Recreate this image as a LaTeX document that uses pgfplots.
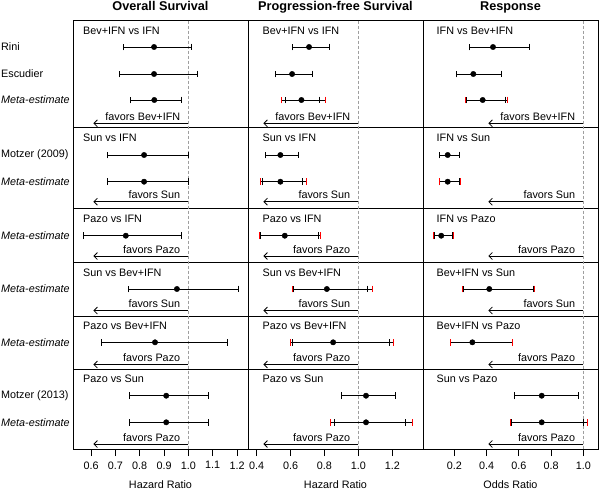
\documentclass[border=0pt]{standalone}
\usepackage{fontspec}
\setmainfont{Liberation Sans}
\usepackage{pgfplots}
\usepackage{pgfplotstable}
\pgfplotsset{compat=1.18}
\usetikzlibrary{arrows.meta}

\newcommand{\lab}{\fontsize{10.8}{13}\selectfont}
\newcommand{\ttl}{\fontsize{12.7}{15}\selectfont\bfseries}

% y column = vertical row position (top = 20.7, bottom = 449)
% columns: y, estimate, lower, upper
\pgfplotstableread{
y     est   lo    hi
47    0.859 0.733 1.013
74    0.859 0.715 1.036
100   0.860 0.760 0.973
155   0.818 0.669 1.000
181.7 0.818 0.669 1.000
235.7 0.743 0.568 0.970
289   0.953 0.754 1.204
342.3 0.863 0.644 1.161
395.7 0.909 0.758 1.083
422.3 0.909 0.758 1.083
}\osci

\pgfplotstableread{
y     est   lo    hi
47    0.709 0.611 0.827
74    0.609 0.513 0.731
100   0.664 0.572 0.768
155   0.540 0.454 0.646
181.7 0.540 0.432 0.670
235.7 0.566 0.422 0.766
289   0.814 0.617 1.055
342.3 0.851 0.611 1.181
395.7 1.045 0.898 1.218
422.3 1.045 0.858 1.277
}\pfsci

% prediction intervals (red ends)
\pgfplotstableread{
y     est   lo    hi
100   0.664 0.548 0.805
181.7 0.540 0.424 0.693
235.7 0.566 0.416 0.776
289   0.814 0.609 1.085
342.3 0.851 0.601 1.207
422.3 1.045 0.833 1.321
}\pfspi

\pgfplotstableread{
y     est   lo    hi
47    0.440 0.293 0.663
74    0.318 0.211 0.490
100   0.376 0.277 0.519
155   0.159 0.109 0.231
181.7 0.159 0.109 0.231
235.7 0.119 0.075 0.190
289   0.417 0.255 0.693
342.3 0.312 0.176 0.558
395.7 0.742 0.572 0.967
422.3 0.742 0.551 1.000
}\rspci

\pgfplotstableread{
y     est   lo    hi
100   0.376 0.271 0.529
181.7 0.159 0.105 0.240
235.7 0.119 0.072 0.194
289   0.417 0.252 0.698
342.3 0.312 0.173 0.562
422.3 0.742 0.545 1.025
}\rsppi

\pgfplotsset{
  forest/.style={
    scale only axis,
    width=175pt, height=428.3pt,
    y dir=reverse, ymin=20.7, ymax=449,
    ytick=\empty,
    clip=false,
    axis line style={black, line width=0.8pt},
    tick align=outside, xtick pos=left, major tick length=7pt,
    tick style={black, line width=0.8pt},
    xticklabel style={font=\lab, yshift=-2pt,
      /pgf/number format/fixed,
      /pgf/number format/fixed zerofill,
      /pgf/number format/precision=1,
      /pgf/number format/assume math mode=true},
    extra y ticks={127.3,208,262,316,369.3},
    extra y tick labels={},
    extra y tick style={grid=major, major grid style={black, line width=0.8pt},
      major tick length=0pt},
  },
  ci/.style={black, only marks, mark=*, mark size=2.7pt,
    error bars/.cd, x dir=both, x explicit, error mark=|,
    error bar style={draw=black, line width=0.8pt},
    error mark options={draw=black, mark size=3.3pt, line width=0.8pt}},
  pi/.style={black, only marks, mark=none,
    error bars/.cd, x dir=both, x explicit, error mark=|,
    error bar style={draw=black, line width=0.8pt},
    error mark options={draw=red, mark size=3.3pt, line width=0.8pt}},
}

\newcommand{\fav}[2]{%
  \draw[black, line width=0.8pt, -{Straight Barb[length=3.5pt,width=7pt]}]
    (axis cs:1,#1) -- ([xshift=-95pt]axis cs:1,#1);
  \node[font=\lab, anchor=base east, inner sep=0pt, xshift=-8pt, yshift=3pt]
    at (axis cs:1,#1) {favors #2};}
\newcommand{\grp}[4]{%
  \node[font=\lab, anchor=west, inner sep=0pt, xshift=#2] at (axis cs:#1,#3) {#4};}
\newcommand{\refline}{%
  \draw[gray!75, line width=0.6pt, dash pattern=on 3pt off 2pt]
    (axis cs:1,20.7) -- (axis cs:1,449);}

\begin{document}
\begin{tikzpicture}
\useasboundingbox (0,0) rectangle (600pt,-490pt);

% ---- Overall Survival ----
\begin{axis}[forest, at={(73pt,-20.7pt)}, anchor=north west,
  xmin=0.526, xmax=1.245, xtick={0.6,0.7,...,1.2}]
  \refline
  \addplot[ci] table[x=est, y=y,
    x error plus expr=\thisrow{hi}-\thisrow{est},
    x error minus expr=\thisrow{est}-\thisrow{lo}] {\osci};
  \node[font=\ttl, anchor=base] at (axis cs:0.8855,20.7) [yshift=10.5pt] {Overall Survival};
  \node[font=\lab] at (axis cs:0.8855,449) [yshift=-35.5pt] {Hazard Ratio};
  \grp{0.526}{10pt}{31}{Bev+IFN vs IFN}
  \grp{0.526}{10pt}{137.3}{Sun vs IFN}
  \grp{0.526}{10pt}{219}{Pazo vs IFN}
  \grp{0.526}{10pt}{272.5}{Sun vs Bev+IFN}
  \grp{0.526}{10pt}{325.7}{Pazo vs Bev+IFN}
  \grp{0.526}{10pt}{379}{Pazo vs Sun}
  \fav{123.3}{Bev+IFN}
  \fav{201.7}{Sun}
  \fav{256}{Pazo}
  \fav{310.5}{Sun}
  \fav{364.5}{Pazo}
  \fav{444}{Pazo}
  % row labels
  \grp{0.526}{-72pt}{47}{Rini}
  \grp{0.526}{-72pt}{74}{Escudier}
  \grp{0.526}{-72pt}{100}{\itshape Meta-estimate}
  \grp{0.526}{-72pt}{155}{Motzer (2009)}
  \grp{0.526}{-72pt}{181.7}{\itshape Meta-estimate}
  \grp{0.526}{-72pt}{235.7}{\itshape Meta-estimate}
  \grp{0.526}{-72pt}{289}{\itshape Meta-estimate}
  \grp{0.526}{-72pt}{342.3}{\itshape Meta-estimate}
  \grp{0.526}{-72pt}{395.7}{Motzer (2013)}
  \grp{0.526}{-72pt}{422.3}{\itshape Meta-estimate}
\end{axis}

% ---- Progression-free Survival ----
\begin{axis}[forest, at={(248pt,-20.7pt)}, anchor=north west,
  xmin=0.349, xmax=1.381, xtick={0.4,0.6,...,1.2}]
  \refline
  \addplot[ci] table[x=est, y=y,
    x error plus expr=\thisrow{hi}-\thisrow{est},
    x error minus expr=\thisrow{est}-\thisrow{lo}] {\pfsci};
  \addplot[pi] table[x=est, y=y,
    x error plus expr=\thisrow{hi}-\thisrow{est},
    x error minus expr=\thisrow{est}-\thisrow{lo}] {\pfspi};
  \node[font=\ttl, anchor=base] at (axis cs:0.865,20.7) [yshift=10.5pt] {Progression-free Survival};
  \node[font=\lab] at (axis cs:0.865,449) [yshift=-35.5pt] {Hazard Ratio};
  \grp{0.349}{14.5pt}{31}{Bev+IFN vs IFN}
  \grp{0.349}{14.5pt}{137.3}{Sun vs IFN}
  \grp{0.349}{14.5pt}{219}{Pazo vs IFN}
  \grp{0.349}{14.5pt}{272.5}{Sun vs Bev+IFN}
  \grp{0.349}{14.5pt}{325.7}{Pazo vs Bev+IFN}
  \grp{0.349}{14.5pt}{379}{Pazo vs Sun}
  \fav{123.3}{Bev+IFN}
  \fav{201.7}{Sun}
  \fav{256}{Pazo}
  \fav{310.5}{Sun}
  \fav{364.5}{Pazo}
  \fav{444}{Pazo}
\end{axis}

% ---- Response ----
\begin{axis}[forest, at={(423pt,-20.7pt)}, anchor=north west,
  xmin=0.006, xmax=1.091, xtick={0.2,0.4,...,1.0}]
  \refline
  \addplot[ci] table[x=est, y=y,
    x error plus expr=\thisrow{hi}-\thisrow{est},
    x error minus expr=\thisrow{est}-\thisrow{lo}] {\rspci};
  \addplot[pi] table[x=est, y=y,
    x error plus expr=\thisrow{hi}-\thisrow{est},
    x error minus expr=\thisrow{est}-\thisrow{lo}] {\rsppi};
  \node[font=\ttl, anchor=base] at (axis cs:0.5485,20.7) [yshift=10.5pt] {Response};
  \node[font=\lab] at (axis cs:0.5485,449) [yshift=-35.5pt] {Odds Ratio};
  \grp{0.006}{13.5pt}{31}{IFN vs Bev+IFN}
  \grp{0.006}{13.5pt}{137.3}{IFN vs Sun}
  \grp{0.006}{13.5pt}{219}{IFN vs Pazo}
  \grp{0.006}{13.5pt}{272.5}{Bev+IFN vs Sun}
  \grp{0.006}{13.5pt}{325.7}{Bev+IFN vs Pazo}
  \grp{0.006}{13.5pt}{379}{Sun vs Pazo}
  \fav{123.3}{Bev+IFN}
  \fav{201.7}{Sun}
  \fav{256}{Pazo}
  \fav{310.5}{Sun}
  \fav{364.5}{Pazo}
  \fav{444}{Pazo}
\end{axis}
\end{tikzpicture}
\end{document}
